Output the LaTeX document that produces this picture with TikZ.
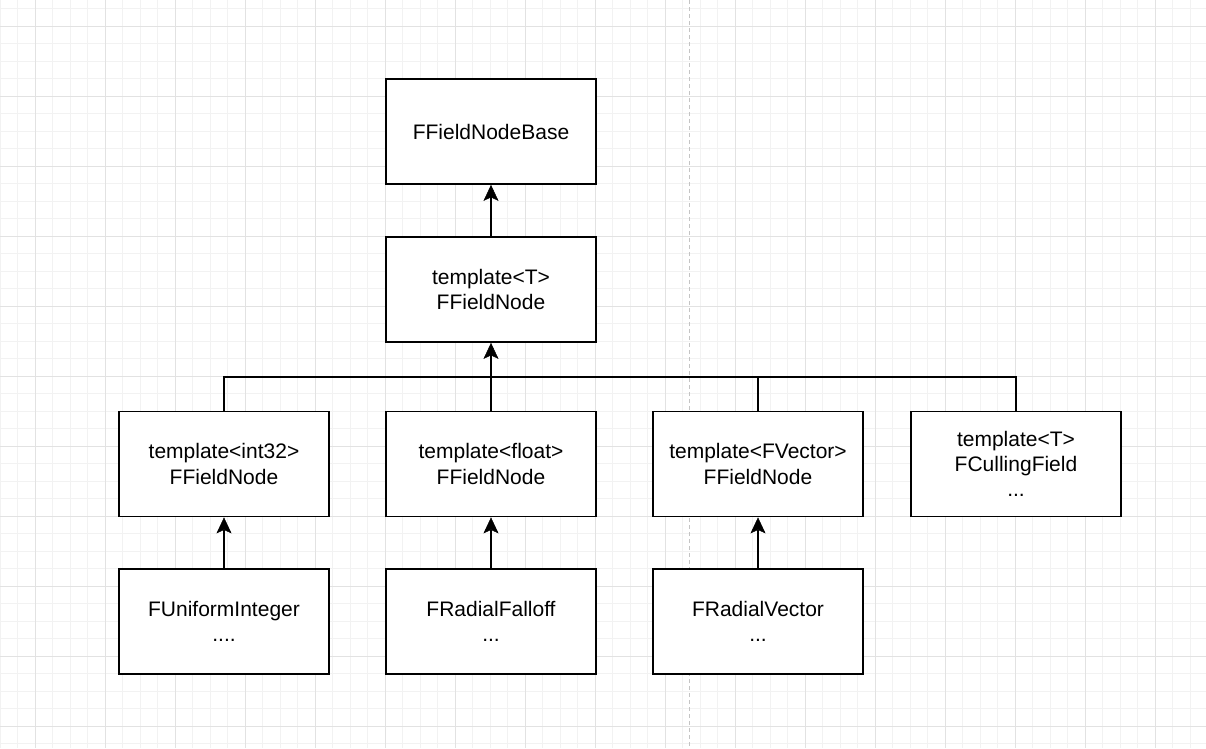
\documentclass[tikz,border=0pt]{standalone}
\usepackage{fontspec}
\setmainfont{Liberation Sans}
\usetikzlibrary{arrows.meta}
\definecolor{gridminor}{HTML}{F2F2F2}
\definecolor{gridmajor}{HTML}{E2E2E2}
\definecolor{pagebreak}{HTML}{C4C4C4}
\tikzset{
  box/.style={draw=black, line width=1.75pt, fill=white, minimum width=210pt, minimum height=105pt,
    align=center, inner sep=0pt, font=\fontsize{21pt}{25.2pt}\selectfont},
  link/.style={draw=black, line width=1.75pt},
  arrowlink/.style={link, arrows={-Stealth[length=16pt, width=15pt, inset=3.5pt, line width=0.5pt]}}
}
\begin{document}
\begin{tikzpicture}[x=1pt, y=-1pt]
\useasboundingbox (0,0) rectangle (1206,748);
\fill[white] (0,0) rectangle (1206,748);
% grid
\foreach \i in {0,...,69} {
  \draw[gridminor, line width=1pt] ({17.5*\i},0) -- ({17.5*\i},748);
}
\foreach \j in {0,...,43} {
  \draw[gridminor, line width=1pt] (0,{8.5+17.5*\j}) -- (1206,{8.5+17.5*\j});
}
\foreach \i in {0,...,17} {
  \draw[gridmajor, line width=1pt] ({35+70*\i},0) -- ({35+70*\i},748);
}
\foreach \j in {0,...,10} {
  \draw[gridmajor, line width=1pt] (0,{26+70*\j}) -- (1206,{26+70*\j});
}
\draw[pagebreak, line width=1pt, dash pattern=on 4pt off 3pt] (689.5,0) -- (689.5,748);

% nodes
\node[box] (base) at (491,131.5) {FFieldNodeBase};
\node[box] (tmpl) at (491,289.5) {template<T>\\FFieldNode};
\node[box] (int) at (224,464) {template<int32>\\FFieldNode};
\node[box] (flt) at (491,464) {template<float>\\FFieldNode};
\node[box] (vec) at (758,464) {template<FVector>\\FFieldNode};
\node[box] (cul) at (1016,464) {template<T>\\FCullingField\\...};
\node[box] (uni) at (224,621.5) {FUniformInteger\\....};
\node[box] (rad) at (491,621.5) {FRadialFalloff\\...};
\node[box] (rvec) at (758,621.5) {FRadialVector\\...};
\coordinate (bus) at (491,377);

% connectors
\draw[arrowlink] (tmpl.north) -- (base.south);
\draw[link] (int.north) |- (bus);
\draw[link] (vec.north) |- (bus);
\draw[link] (cul.north) |- (bus);
\draw[arrowlink] (flt.north) -- (tmpl.south);
\draw[arrowlink] (uni.north) -- (int.south);
\draw[arrowlink] (rad.north) -- (flt.south);
\draw[arrowlink] (rvec.north) -- (vec.south);
\end{tikzpicture}
\end{document}
